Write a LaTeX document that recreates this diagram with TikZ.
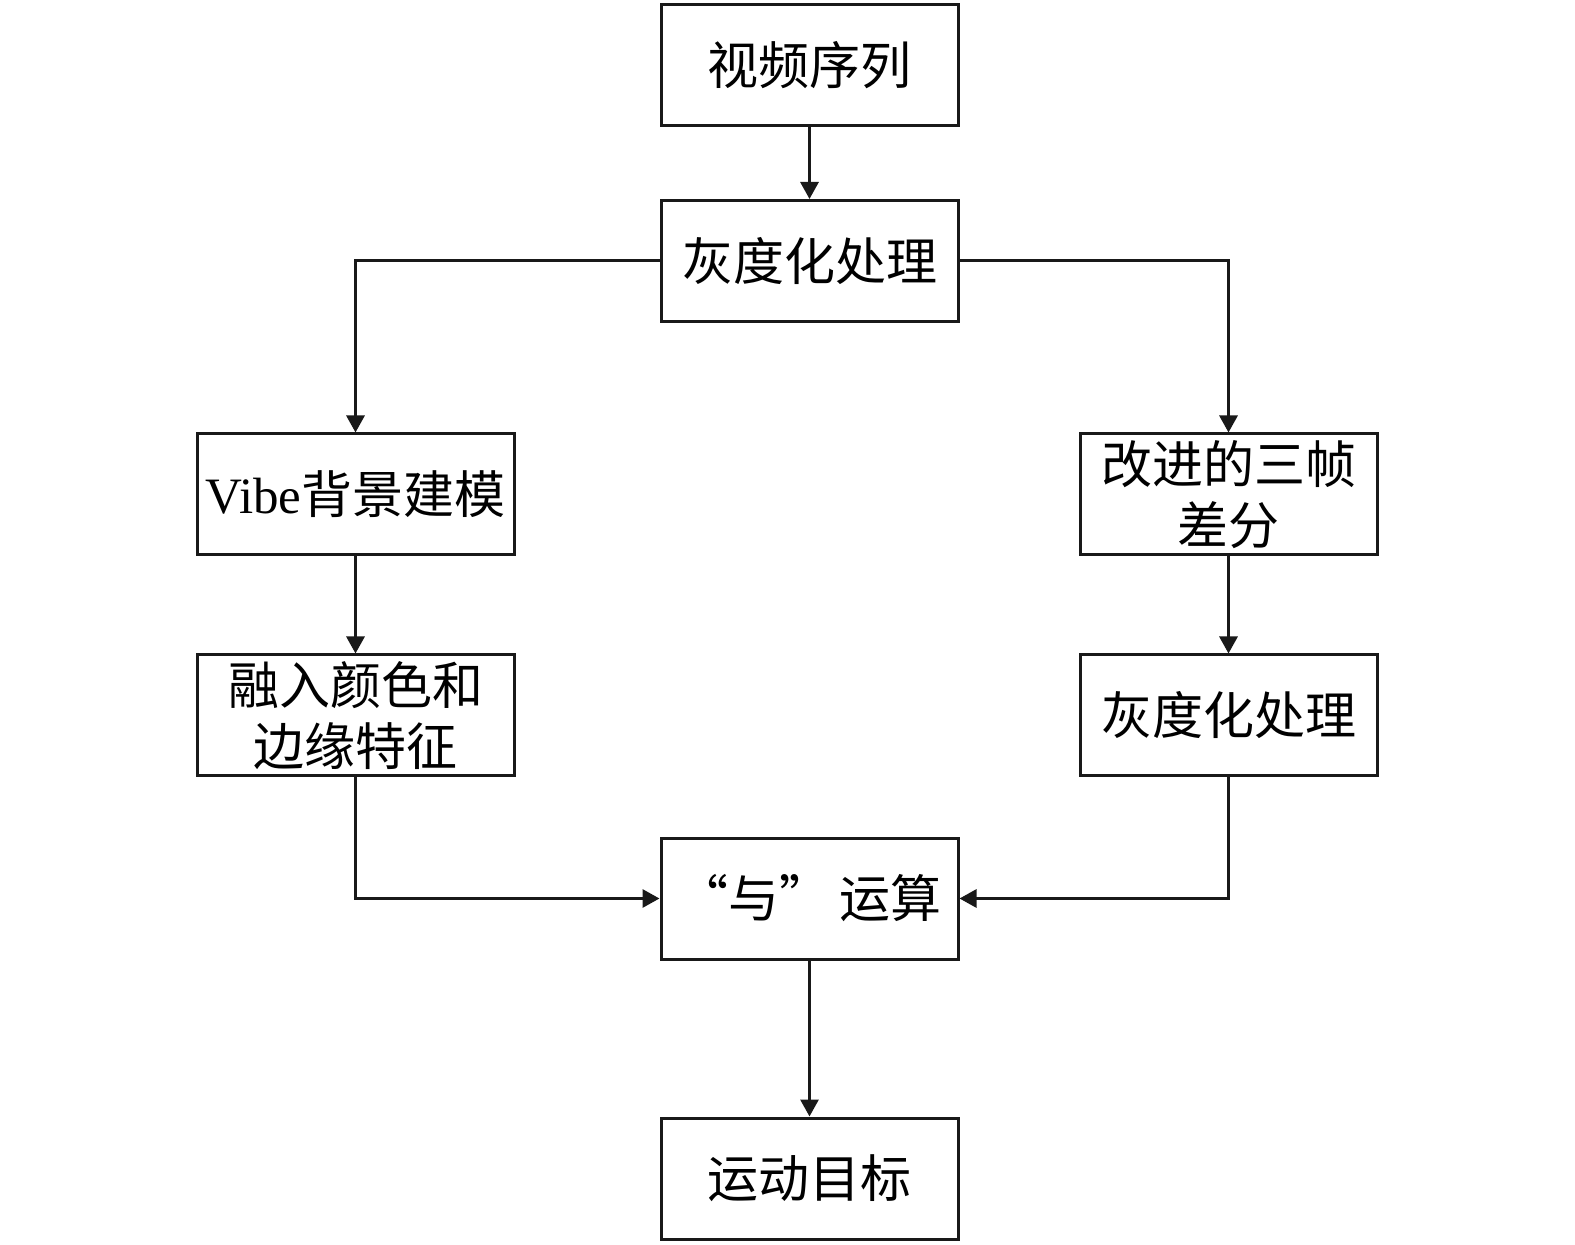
\documentclass[tikz,border=0pt]{standalone}
\usepackage{fontspec}
\setmainfont{Liberation Serif}
\newfontfamily\cjk{Noto Sans CJK SC}
\usetikzlibrary{arrows.meta}
\begin{document}
\begin{tikzpicture}[x=0.5pt,y=-0.5pt,
  box/.style={draw=black!90, line width=1.5pt, minimum width=148.5pt, minimum height=60.5pt, inner sep=0pt, align=center, font=\fontsize{25.5}{30.5}\selectfont\cjk},
  wbox/.style={box, minimum width=158.5pt},
  conn/.style={draw=black!90, line width=1.5pt, -{Triangle[length=8.5pt,width=9pt]}}]
\useasboundingbox (0,0) rectangle (1575,1245);
\node[box] (seq) at (809.5,65) {视频序列};
\node[box] (gray) at (809.5,261) {灰度化处理};
\node[wbox] (vibe) at (355.5,494.5) {{\fontsize{25.5}{30.5}\selectfont\rmfamily Vibe}背景建模};
\node[box] (diff) at (1228.5,494.5) {改进的三帧\\差分};
\node[wbox] (fuse) at (355.5,715.5) {融入颜色和\\边缘特征};
\node[box] (gray2) at (1228.5,715.5) {灰度化处理};
\node[box] (and) at (809.5,898.5) {“与”\,运算};
\node[box] (tgt) at (809.5,1178.5) {运动目标};
\draw[conn] (seq) -- (gray);
\draw[conn] (gray.west) -| (vibe.north);
\draw[conn] (gray.east) -| (diff.north);
\draw[conn] (vibe) -- (fuse);
\draw[conn] (diff) -- (gray2);
\draw[conn] (fuse.south) |- (and.west);
\draw[conn] (gray2.south) |- (and.east);
\draw[conn] (and) -- (tgt);
\end{tikzpicture}
\end{document}
